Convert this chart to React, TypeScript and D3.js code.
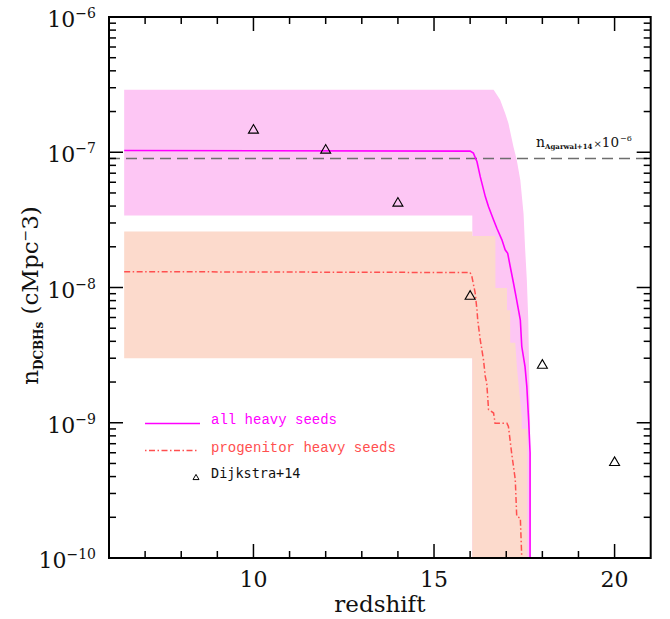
import React from 'react';
import * as d3 from 'd3';

// Dijkstra+14 points
const dijkstraZ = [10, 12, 14, 16, 18, 20];
const dijkstraN = [1.49e-7, 1.06e-7, 4.3e-8, 8.8e-9, 2.72e-9, 5.2e-10];

// Agarwal+14 reference level (x 1e-6)
const agarwalN = 9e-8;

// all heavy seeds: median line
const allZ = [6.42, 16.0, 16.09, 16.19, 16.28, 16.42, 16.51, 16.65, 16.74, 16.88, 16.97, 17.04, 17.11, 17.2, 17.27, 17.39, 17.43, 17.52, 17.57, 17.62, 17.66, 17.66];
const allN = [1.03e-7, 1.02e-7, 9.85e-8, 8.5e-8, 6.6e-8, 4.7e-8, 3.96e-8, 3.16e-8, 2.74e-8, 2.25e-8, 1.9e-8, 1.79e-8, 1.43e-8, 1.08e-8, 8.6e-9, 5.75e-9, 3.66e-9, 2.6e-9, 1.85e-9, 1.05e-9, 6e-10, 1e-11];

// all heavy seeds: spread
const allUpZ = [6.42, 16.65, 16.83, 16.97, 17.06, 17.2, 17.29, 17.39, 17.48, 17.52, 17.57, 17.61, 17.66, 17.66];
const allUpN = [2.9e-7, 2.9e-7, 2.44e-7, 1.94e-7, 1.64e-7, 1.1e-7, 8.8e-8, 6.2e-8, 3.5e-8, 2.0e-8, 1.14e-8, 5.8e-9, 1.0e-9, 1e-11];
const allLoZ = [6.42, 16.06, 16.06, 17.66];
const allLoN = [3.4e-8, 3.4e-8, 1e-11, 1e-11];

// progenitor heavy seeds: median line
const progZ = [6.42, 16.0, 16.05, 16.14, 16.19, 16.21, 16.28, 16.37, 16.42, 16.46, 16.51, 16.65, 16.69, 17.02, 17.06, 17.15, 17.25, 17.29, 17.39, 17.43, 17.45];
const progN = [1.31e-8, 1.29e-8, 1.2e-8, 9.1e-9, 6.8e-9, 5.75e-9, 4.1e-9, 2.92e-9, 2.19e-9, 1.96e-9, 1.25e-9, 1.18e-9, 9.9e-10, 9.9e-10, 9.4e-10, 5.95e-10, 3.8e-10, 2.03e-10, 1.97e-10, 1e-10, 1e-11];

// progenitor heavy seeds: spread
const progUpZ = [6.42, 16.06, 16.06, 16.7, 16.7, 17.02, 17.02, 17.11, 17.11, 17.25, 17.3, 17.43, 17.43, 17.58, 17.58];
const progUpN = [2.59e-8, 2.59e-8, 2.4e-8, 2.4e-8, 9.9e-9, 9.9e-9, 6.8e-9, 6.8e-9, 3.9e-9, 3.9e-9, 2.5e-9, 1.1e-9, 9e-10, 9e-10, 1e-11];
const progLoZ = [6.42, 16.06, 16.06, 17.58];
const progLoN = [3e-9, 3e-9, 1e-11, 1e-11];

const xLabels = [10, 15, 20];

const W = 670;
const H = 619;
const m = { left: 109, right: 19.3, top: 17, bottom: 61 };
const serif = '"DejaVu Serif", serif';

const x = d3.scaleLinear().domain([6, 21]).range([m.left, W - m.right]);
const y = d3.scaleLog().domain([1e-10, 1e-6]).range([H - m.bottom, m.top]);

const pts = (zs: number[], ns: number[]) => zs.map((z, i) => [z, ns[i]] as [number, number]);
const line = d3.line<[number, number]>().x(d => x(d[0])).y(d => y(d[1]));

// band polygon: upper edge forward, lower edge back
const band = (uz: number[], un: number[], lz: number[], ln: number[]) =>
  line([...pts(uz, un), ...pts(lz, ln).reverse()]) + 'Z';

const App = () => {
  const [x0, x1] = x.range();
  const [y0, y1] = y.range();
  const yTicks = y.ticks();
  const xTicks = x.ticks(15).filter(t => t > 6 && t < 21);
  const isMajorY = (t: number) => Math.abs(Math.log10(t) - Math.round(Math.log10(t))) < 1e-6;
  const decades = yTicks.filter(isMajorY);
  const tri = (cx: number, cy: number, s: number) =>
    `M${cx - s / 2},${cy + s * 0.43}L${cx + s / 2},${cy + s * 0.43}L${cx},${cy - s * 0.43}Z`;

  return (
    <svg width={W} height={H} style={{ position: 'absolute', left: 0, top: 0, background: '#fff' }}>
      <defs>
        <clipPath id="plot">
          <rect x={x0} y={y1} width={x1 - x0} height={y0 - y1} />
        </clipPath>
      </defs>

      <g clipPath="url(#plot)">
        <path d={band(allUpZ, allUpN, allLoZ, allLoN)} fill="#fdc6f4" />
        <path d={band(progUpZ, progUpN, progLoZ, progLoN)} fill="#fcdacc" />
        <line x1={x0} x2={x1} y1={y(agarwalN)} y2={y(agarwalN)} stroke="#6e6e6e" strokeWidth={1.6} strokeDasharray="11,6" />
        <path d={line(pts(allZ, allN)) || ''} fill="none" stroke="#ff00ff" strokeWidth={1.6} />
        <path d={line(pts(progZ, progN)) || ''} fill="none" stroke="#ff4f4f" strokeWidth={1.5} strokeDasharray="6,2.5,1.5,2.5" />
        {dijkstraZ.map((z, i) => (
          <path key={z} d={tri(x(z), y(dijkstraN[i]), 10)} fill="none" stroke="#000" strokeWidth={1.1} />
        ))}
      </g>

      {/* frame and ticks */}
      <rect x={x0} y={y1} width={x1 - x0} height={y0 - y1} fill="none" stroke="#000" strokeWidth={2} />
      {xTicks.map(t => {
        const len = t % 5 === 0 ? 14 : 7;
        return (
          <g key={'x' + t} stroke="#000" strokeWidth={1.5}>
            <line x1={x(t)} x2={x(t)} y1={y0} y2={y0 - len} />
            <line x1={x(t)} x2={x(t)} y1={y1} y2={y1 + len} />
          </g>
        );
      })}
      {yTicks.map(t => {
        const len = isMajorY(t) ? 14 : 7;
        return (
          <g key={'y' + t} stroke="#000" strokeWidth={1.5}>
            <line x1={x0} x2={x0 + len} y1={y(t)} y2={y(t)} />
            <line x1={x1} x2={x1 - len} y1={y(t)} y2={y(t)} />
          </g>
        );
      })}

      {/* tick labels */}
      {xLabels.map(t => (
        <text key={'xl' + t} x={x(t)} y={y0 + 29} textAnchor="middle" fontFamily={serif} fontSize={22} fill="#111">
          {t}
        </text>
      ))}
      {decades.map(t => (
        <text key={'yl' + t} x={96} y={y(t) + 10} textAnchor="end" fontFamily={serif} fontSize={22} fill="#111">
          10
          <tspan fontSize={14} dy={-9}>{'\u2212' + Math.abs(Math.round(Math.log10(t)))}</tspan>
        </text>
      ))}

      {/* axis titles */}
      <text x={(x0 + x1) / 2} y={612} textAnchor="middle" fontFamily={serif} fontSize={23} fill="#111">
        redshift
      </text>
      <text transform={`translate(38,${(y0 + y1) / 2 + 8}) rotate(-90)`} textAnchor="middle" fontFamily={serif} fontSize={23} fill="#111">
        n
        <tspan fontSize={12} fontWeight="bold" dy={5}>DCBHs</tspan>
        <tspan dy={-5}>{' (cMpc'}</tspan>
        <tspan fontSize={14} dy={-8}>{'\u2212'}</tspan>
        <tspan dy={8}>3)</tspan>
      </text>

      {/* Agarwal annotation */}
      <text x={536} y={146.5} fontFamily={serif} fontSize={14} fill="#111">
        n
        <tspan fontSize={7} fontWeight="bold" dy={2.5}>Agarwal+14</tspan>
        <tspan fontSize={10} dy={-2.5} dx={1}>{'\u00d7'}</tspan>
        <tspan fontSize={13.5}>10</tspan>
        <tspan fontSize={8} dy={-6} dx={1}>{'\u22126'}</tspan>
      </text>

      {/* legend */}
      <line x1={145} x2={200} y1={423.5} y2={423.5} stroke="#ff00ff" strokeWidth={1.5} />
      <text x={211} y={424} fontFamily='"Liberation Mono", monospace' fontSize={14} fill="#ff00ff">
        all heavy seeds
      </text>
      <line x1={145} x2={197} y1={450.5} y2={450.5} stroke="#ff4f4f" strokeWidth={1.5} strokeDasharray="1.5,2.5,6,2.5" />
      <text x={211} y={452} fontFamily='"Liberation Mono", monospace' fontSize={14} fill="#ff4f4f">
        progenitor heavy seeds
      </text>
      <path d={tri(196, 477, 6)} fill="none" stroke="#000" strokeWidth={1} />
      <text x={211} y={478} fontFamily='"DejaVu Sans Mono", monospace' fontSize={13.5} fill="#111">
        Dijkstra+14
      </text>
    </svg>
  );
};

export default App;
